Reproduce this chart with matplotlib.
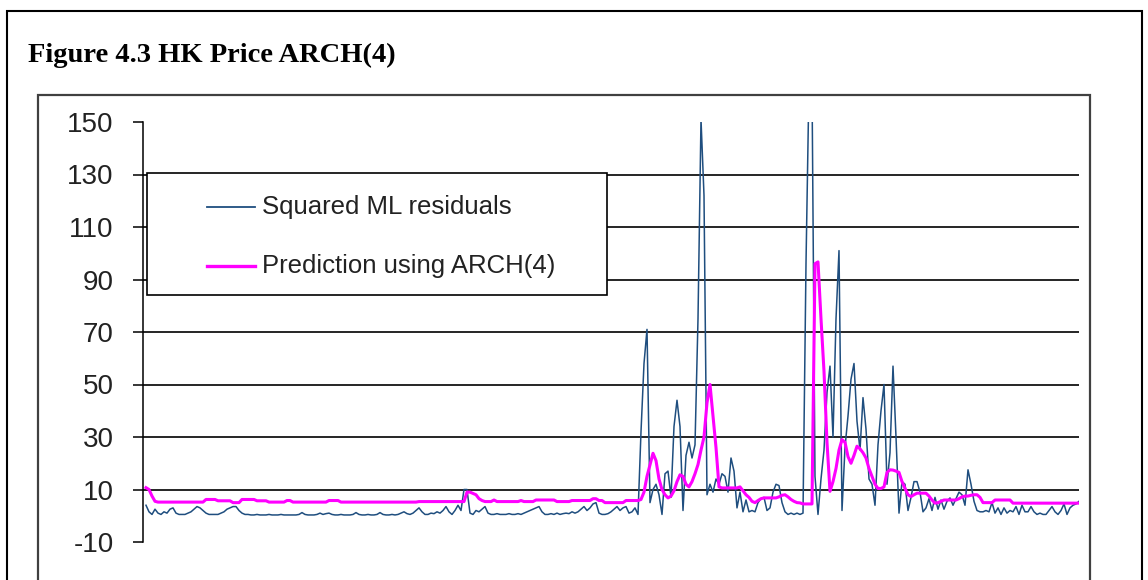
import matplotlib
matplotlib.use("Agg")
import matplotlib.pyplot as plt
from matplotlib.patches import Rectangle
from matplotlib.lines import Line2D
import numpy as np

title = "Figure 4.3 HK Price ARCH(4)"
series_names = ["Squared ML residuals", "Prediction using ARCH(4)"]
yticks = [-10, 10, 30, 50, 70, 90, 110, 130, 150]

# squared residuals
residuals = [
    4, 1.5, 0.5, 2.5, 1, 0.5, 1.5, 1, 2.5, 3,
    1, 0.5, 0.5, 0.5, 1, 1.5, 2.5, 3.5, 3, 2,
    1, 0.5, 0.5, 0.5, 0.5, 1, 1.5, 2.5, 3, 3.5,
    3.5, 2, 1, 0.5, 0.5, 0.3, 0.3, 0.5, 0.3, 0.3,
    0.3, 0.5, 0.3, 0.3, 0.3, 0.5, 0.3, 0.3, 0.3, 0.3,
    0.3, 0.5, 1.2, 0.5, 0.3, 0.3, 0.3, 0.5, 1, 0.5,
    0.8, 1, 0.5, 0.3, 0.3, 0.5, 0.3, 0.3, 0.3, 0.5,
    1.2, 0.5, 0.3, 0.3, 0.5, 0.3, 0.3, 0.5, 1.2, 0.5,
    0.3, 0.3, 0.5, 0.3, 0.5, 1, 1.5, 0.8, 0.5, 1,
    2, 3, 1.5, 0.5, 0.5, 1, 0.8, 1.5, 1, 2,
    3.5, 1.5, 0.5, 2, 4, 2, 10, 10, 1, 0.5,
    2, 1.5, 2.5, 3.5, 1, 0.5, 0.5, 0.8, 0.5, 0.5,
    0.5, 0.8, 0.5, 0.5, 0.8, 0.5, 1, 1.5, 2, 2.5,
    3, 3.5, 1.5, 0.5, 0.5, 0.8, 0.5, 1, 0.5, 0.8,
    1, 0.8, 1.5, 1, 1.5, 2.5, 3.5, 2, 3, 4.5,
    5, 1, 0.5, 0.5, 0.8, 1.5, 2.5, 3.5, 2, 3,
    3.5, 1, 1.5, 3, 0.5, 32, 58, 71, 5, 10,
    12, 8, 0.5, 16, 17, 7, 34, 44, 34, 2,
    23, 28, 22, 27, 75, 151, 122, 8, 12, 9,
    14, 12, 16, 15, 9, 22, 17, 3, 9, 1.5,
    6, 1.5, 2, 1.5, 5, 6.5, 7, 2, 3, 9,
    12, 11.5, 5, 1.5, 0.5, 1, 0.5, 1, 0.5, 1,
    96, 165, 165, 15, 0.5, 14, 25, 47, 57, 30,
    75, 101, 2, 26, 38, 52, 58, 36, 25, 45,
    33, 14, 12, 4, 27, 40, 50, 12, 24, 57,
    30, 1, 13, 12, 2, 7, 13, 13, 9, 1.5,
    3, 6.5, 2, 7, 2.5, 6, 2.5, 5.5, 6.8, 4,
    6.5, 9, 8, 4, 17.5, 12, 5.5, 2, 1.5, 1.5,
    2, 1.5, 5, 1, 3, 0.5, 3, 1, 2, 1.5,
    3.5, 0.5, 4, 1.5, 1.5, 3.5, 1.5, 0.5, 1, 0.5,
    0.5, 2, 3.5, 1.5, 0.5, 2, 4.5, 0.5, 3, 4,
    4.5, 5.5,
]

# ARCH(4) prediction
prediction = [
    10.7, 10, 7.5, 5.5, 5.2, 5.2, 5.2, 5.2, 5.2, 5.2,
    5.2, 5.2, 5.2, 5.2, 5.2, 5.2, 5.2, 5.2, 5.2, 5.2,
    6.2, 6.2, 6.2, 6.2, 5.7, 5.7, 5.7, 5.7, 5.7, 5,
    5, 5, 6.2, 6.2, 6.2, 6.2, 6.2, 5.7, 5.7, 5.7,
    5.7, 5.2, 5.2, 5.2, 5.2, 5.2, 5.2, 5.8, 5.8, 5.2,
    5.2, 5.2, 5.2, 5.2, 5.2, 5.2, 5.2, 5.2, 5.2, 5.2,
    5.2, 5.8, 5.8, 5.8, 5.8, 5.2, 5.2, 5.2, 5.2, 5.2,
    5.2, 5.2, 5.2, 5.2, 5.2, 5.2, 5.2, 5.2, 5.2, 5.2,
    5.2, 5.2, 5.2, 5.2, 5.2, 5.2, 5.2, 5.2, 5.2, 5.2,
    5.2, 5.4, 5.4, 5.4, 5.4, 5.4, 5.4, 5.4, 5.4, 5.4,
    5.4, 5.4, 5.4, 5.4, 5.4, 5.4, 5.4, 9, 9, 8.5,
    8, 6.5, 5.8, 5.4, 5.4, 5.4, 6, 5.4, 5.4, 5.4,
    5.4, 5.4, 5.4, 5.4, 5.4, 5.8, 5.4, 5.4, 5.4, 5.4,
    6, 6, 6, 6, 6, 6, 6, 5.4, 5.4, 5.4,
    5.4, 5.4, 5.8, 5.8, 5.8, 5.8, 5.8, 5.8, 5.8, 6.5,
    6.5, 5.8, 5.8, 5, 5, 5, 5, 5, 5, 5,
    5.8, 5.8, 5.8, 5.8, 5.8, 6.2, 9, 15, 19.4, 23.8,
    21, 14, 10, 8, 6.8, 7.5, 9.5, 13, 15.6, 15,
    12, 11, 13, 16, 19.5, 25, 30, 43, 50, 38,
    26, 11, 10.6, 10.6, 10.6, 10.6, 10.6, 10.6, 11, 9.5,
    8, 7, 5.5, 5, 5.8, 6.5, 6.8, 6.8, 6.8, 6.8,
    6.8, 7.2, 7.8, 8, 7.2, 6.2, 5.5, 5, 4.9, 4.5,
    4.5, 4.5, 4.5, 96, 96.7, 75, 55, 28, 9.3, 13,
    18, 25, 29, 28, 22.5, 20, 23, 26.5, 25.5, 24,
    22, 18, 15, 12, 10.4, 10.4, 11, 16.5, 17.5, 17.4,
    17, 16.5, 13, 10.4, 8, 7.3, 8, 8.6, 8.6, 8.6,
    8.6, 7.5, 6, 4.8, 5, 5.5, 6, 6, 6, 6,
    6, 6.5, 7.2, 7.5, 7.5, 7.8, 8, 8, 7, 5,
    5, 5, 5, 6, 6, 6, 6, 6, 6, 4.8,
    4.8, 4.8, 4.8, 4.8, 4.8, 4.8, 4.8, 4.8, 4.8, 4.8,
    4.8, 4.8, 4.8, 4.8, 4.8, 4.8, 4.8, 4.8, 4.8, 4.8,
    4.8, 4.8,
]

colors = ['#1f4e7f', '#ff00ff']
widths = [1.1, 2.2]

plt.rcParams['font.family'] = 'Liberation Sans'
plt.rcParams['axes.unicode_minus'] = False

W, H = 1148, 580
fig = plt.figure(figsize=(W / 100, H / 100), dpi=100)

def fx(p):
    return p / W

def fy(p):
    return 1 - p / H

# outer frame and chart frame
fig.add_artist(Rectangle((fx(7), fy(640)), fx(1142) - fx(7), fy(11) - fy(640),
                         transform=fig.transFigure, fill=False,
                         edgecolor='black', lw=1.5))
fig.add_artist(Rectangle((fx(38), fy(640)), fx(1090) - fx(38), fy(95) - fy(640),
                         transform=fig.transFigure, fill=False,
                         edgecolor='#404040', lw=1.6))

fig.text(fx(28), fy(62), title, family='Liberation Serif', weight='bold',
         fontsize=20.5, va='baseline', ha='left')

ax = fig.add_axes([fx(143), fy(542), fx(1079) - fx(143), fy(122) - fy(542)])
x = np.arange(len(residuals))
ax.plot(x, residuals, color=colors[0], lw=widths[0], zorder=3)
ax.plot(x, prediction, color=colors[1], lw=widths[1], zorder=4)
ax.set_xlim(-1, len(residuals) - 1)
ax.set_ylim(yticks[0], yticks[-1])
ax.set_yticks(yticks)
ax.set_xticks([])
for v in yticks[1:-1]:
    ax.axhline(v, color='black', lw=1.2, zorder=1)

for s in ['top', 'right', 'bottom']:
    ax.spines[s].set_visible(False)
ax.spines['left'].set_linewidth(1.1)
ax.tick_params(axis='y', direction='out', length=7.2, width=1.1, pad=14,
               labelsize=20, labelcolor='#222222')

# legend box
fig.add_artist(Rectangle((fx(147), fy(295)), fx(607) - fx(147), fy(173) - fy(295),
                         transform=fig.transFigure, facecolor='white',
                         edgecolor='black', lw=1.2, zorder=5))
for k, name in enumerate(series_names):
    ly = 207 + 59 * k
    fig.add_artist(Line2D([fx(207), fx(255)], [fy(ly), fy(ly)],
                          transform=fig.transFigure, color=colors[k],
                          lw=widths[k] + 0.2, zorder=6))
    fig.text(fx(262), fy(ly + 7), name, fontsize=18.5, color='#222222',
             va='baseline', ha='left', zorder=6)

fig.savefig('out.png', dpi=100)
